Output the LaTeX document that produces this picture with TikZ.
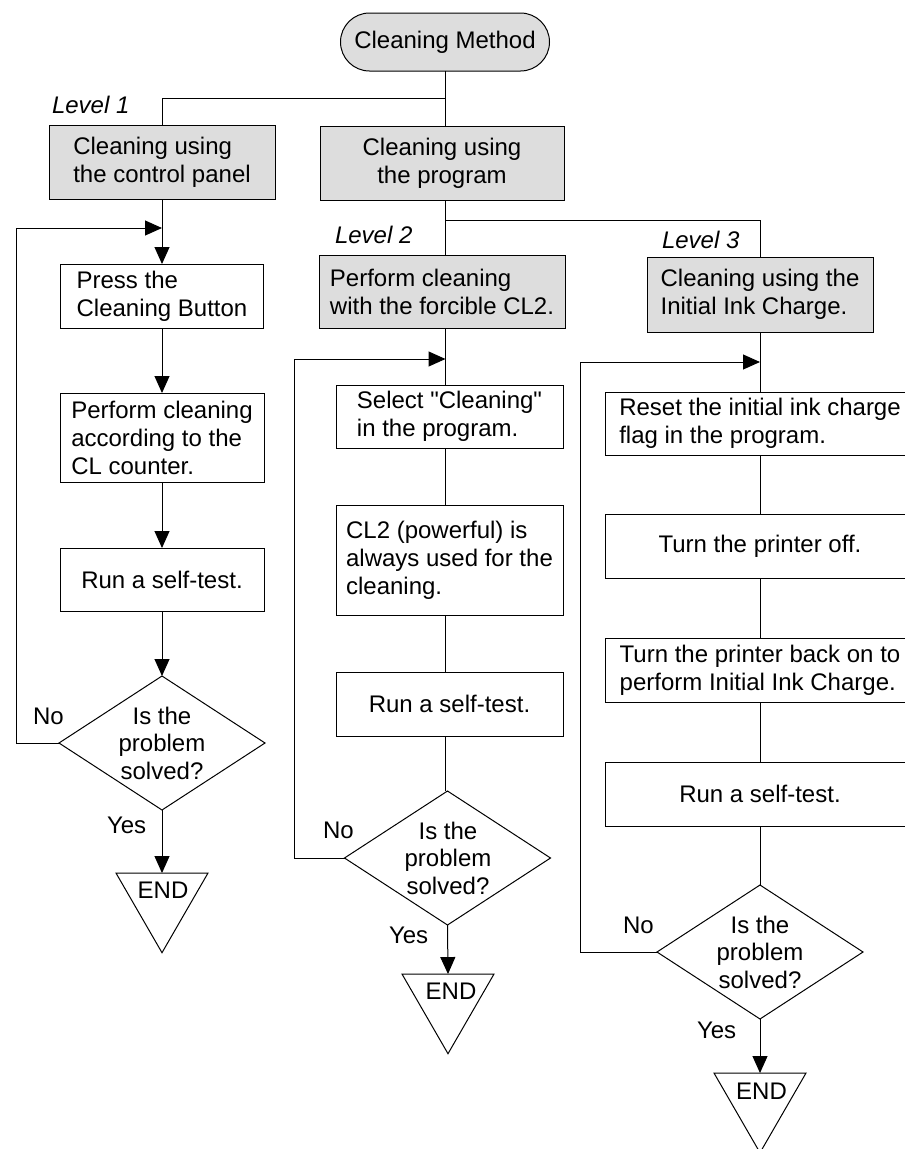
\documentclass[tikz,border=0pt]{standalone}
\usepackage{fontspec}
\setmainfont{Liberation Sans}[Ligatures=TeXOff]
\usetikzlibrary{arrows.meta,shapes.geometric}
\definecolor{boxgray}{RGB}{221,221,221}
\begin{document}
\begin{tikzpicture}[x=1pt,y=-1pt,
  every node/.style={font=\fontsize{24}{28}\selectfont, inner sep=0pt, outer sep=0pt},
  line/.style={line width=1pt, draw=black},
  arr/.style={line, -{Triangle[length=17pt,width=15pt]}},
  stepbox/.style={draw, line width=1pt, rectangle, align=left, fill=white},
  graybox/.style={stepbox, fill=boxgray},
  decide/.style={draw, line width=1pt, diamond, minimum width=206pt, minimum height=134pt},
  endtri/.style={draw, line width=1pt, regular polygon, regular polygon sides=3, shape border rotate=180, minimum size=106.2pt},
  lvl/.style={font=\itshape\fontsize{24}{28}\selectfont, anchor=base west},
  lab/.style={anchor=base west},
  dtext/.style={align=center, font=\fontsize{24}{27.5}\selectfont}]
\useasboundingbox (0,0) rectangle (905,1149);
\clip (0,0) rectangle (905,1149);

% column reference coordinates
\coordinate (c2) at (445.5,0);

% top
\node[stepbox, rounded corners=29pt, fill=boxgray, minimum width=209pt, minimum height=58pt, align=center] (cm) at (445,42) {Cleaning Method};
\node[graybox, minimum width=226pt, minimum height=74pt] (b1) at (162,162) {Cleaning using\\the control panel};
\node[graybox, align=center, minimum width=244pt, minimum height=74pt] (bp) at (442,163) {Cleaning using\\the program};
\node[lvl] (lv1) at (52,113) {Level 1};

% column 1
\node[stepbox, minimum width=203pt, minimum height=64pt] (p1) at (162,296) {Press the\\Cleaning Button};
\node[stepbox, minimum width=204pt, minimum height=89pt] (p2) at (162,437.5) {Perform cleaning\\according to the\\CL counter.};
\node[stepbox, minimum width=204pt, minimum height=63pt] (p3) at (162,579.5) {Run a self-test.};
\node[decide] (d1) at (162,743) {};
\node[dtext] (d1t) at (162,743) {Is the\\problem\\solved?};
\node[endtri] (e1) at (162,899.6) {};
\node (e1t) at (163,890) {END};
\node[lab] (no1) at (33,724) {No};
\node[lab] (yes1) at (107,833) {Yes};

% column 2
\node[lvl] (lv2) at (335,243) {Level 2};
\node[graybox, minimum width=246pt, minimum height=73pt] (l2) at (442,291.5) {Perform cleaning\\with the forcible CL2.};
\node[stepbox, minimum width=227pt, minimum height=63pt] (sel) at (449.5,416.5) {Select "Cleaning"\\in the program.};
\node[stepbox, minimum width=227pt, minimum height=110pt] (cl2) at (449.5,560) {CL2 (powerful) is\\always used for the\\cleaning.};
\node[stepbox, minimum width=227pt, minimum height=64pt] (run2) at (449.5,704) {Run a self-test.};
\node[decide] (d2) at (447.5,858) {};
\node[dtext] (d2t) at (448,858) {Is the\\problem\\solved?};
\node[endtri] (e2) at (448,1000.6) {};
\node (e2t) at (451,991) {END};
\node[lab] (no2) at (323,838) {No};
\node[lab] (yes2) at (389,943) {Yes};

% column 3
\node[lvl] (lv3) at (662,248) {Level 3};
\node[graybox, minimum width=226pt, minimum height=75pt] (l3) at (760,294.5) {Cleaning using the\\Initial Ink Charge.};
\node[stepbox, minimum width=310pt, minimum height=63pt] (rst) at (760,423.5) {Reset the initial ink charge\\flag in the program.};
\node[stepbox, minimum width=310pt, minimum height=64pt] (off) at (760,546) {Turn the printer off.};
\node[stepbox, minimum width=310pt, minimum height=64pt] (back) at (760,670) {Turn the printer back on to\\perform Initial Ink Charge.};
\node[stepbox, minimum width=310pt, minimum height=64pt] (run3) at (760,794) {Run a self-test.};
\node[decide] (d3) at (760,952) {};
\node[dtext] (d3t) at (760,952) {Is the\\problem\\solved?};
\node[endtri] (e3) at (760,1099.6) {};
\node (e3t) at (761.5,1091) {END};
\node[lab] (no3) at (623,933) {No};
\node[lab] (yes3) at (697,1038) {Yes};

% junctions
\coordinate (j0) at (445.5,98);
\coordinate (j2) at (445.5,220);
\coordinate (j1) at (162,228);
\coordinate (k1) at (16,228);
\coordinate (j3) at (445.5,359);
\coordinate (k2) at (294,359);
\coordinate (j4) at (760,362);
\coordinate (k3) at (580,362);

% top connectors
\draw[line] (cm.south -| c2) -- (bp.north -| c2);
\draw[line] (j0) -| (b1.north);
\draw[line] (bp.south -| c2) -- (l2.north -| c2);
\draw[line] (j2) -| (l3.north);

% column 1 connectors
\draw[arr] (b1.south) -- (p1.north);
\draw[arr] (d1.west) -| (k1) -- (j1);
\draw[arr] (p1.south) -- (p2.north);
\draw[arr] (p2.south) -- (p3.north);
\draw[arr] (p3.south) -- (d1.north);
\draw[arr] (d1.south) -- (e1.north);

% column 2 connectors
\draw[line] (l2.south -| c2) -- (sel.north -| c2);
\draw[arr] (d2.west) -| (k2) -- (j3);
\draw[line] (sel.south -| c2) -- (cl2.north -| c2);
\draw[line] (cl2.south -| c2) -- (run2.north -| c2);
\draw[line] (run2.south -| c2) -- (d2.north -| c2);
\draw[arr] (d2.south) -- (e2.north);

% column 3 connectors
\draw[line] (l3.south) -- (rst.north);
\draw[arr] (d3.west) -| (k3) -- (j4);
\draw[line] (rst.south) -- (off.north);
\draw[line] (off.south) -- (back.north);
\draw[line] (back.south) -- (run3.north);
\draw[line] (run3.south) -- (d3.north);
\draw[arr] (d3.south) -- (e3.north);
\end{tikzpicture}
\end{document}
